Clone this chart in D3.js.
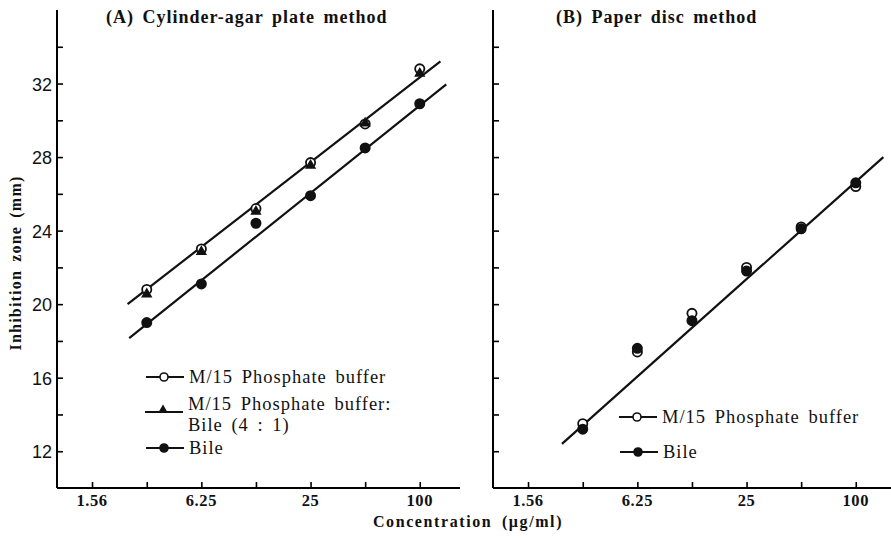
<!DOCTYPE html>
<html>
<head>
<meta charset="utf-8">
<script src="https://cdn.jsdelivr.net/npm/d3@7"></script>
<style>
  body { margin: 0; background: #fff; }
  svg { display: block; }
  text { fill: #111; }
</style>
</head>
<body>
<svg id="chart" width="891" height="538"></svg>
<script>
// Data
const conc = [3.125, 6.25, 12.5, 25, 50, 100];
const tickConc = [1.56, 3.125, 6.25, 12.5, 25, 50, 100];
const tickLabels = ["1.56", "", "6.25", "", "25", "", "100"];
const yTicks = [12, 14, 16, 18, 20, 22, 24, 26, 28, 30, 32, 34];
const yLabels = [12, 16, 20, 24, 28, 32];

// (A) Cylinder-agar plate method
const aPhosphate = [20.8, 23.0, 25.2, 27.7, 29.8, 32.8];
const aMixed = [20.6, 22.9, 25.1, 27.6, 29.9, 32.6];
const aBile = [19.0, 21.1, 24.4, 25.9, 28.5, 30.9];
const aFitUpper = [[2.45, 20.0], [130, 33.2]];
const aFitLower = [[2.5, 18.15], [140, 31.95]];

// (B) Paper disc method
const bPhosphate = [13.5, 17.4, 19.5, 22.0, 24.2, 26.4];
const bBile = [13.2, 17.6, 19.1, 21.8, 24.1, 26.6];
const bFit = [[2.4, 12.4], [142, 28.0]];

const svg = d3.select("#chart");
const serif = "'Liberation Serif', 'DejaVu Serif', serif";
const sans = "'Liberation Sans', Arial, sans-serif";

const y = d3.scaleLinear().domain([10, 36]).range([488, 10]);

const panel = (left, right, title, titleX) => {
    const x = d3.scaleLog().base(2).domain([1, 2 ** ((right - left) / 54.6)]).range([left, right]);
    const g = svg.append("g");

    // axes
    g.append("g")
        .attr("transform", `translate(0,${y(10)})`)
        .call(d3.axisBottom(x).tickValues(tickConc).tickSize(-6).tickFormat(""))
        .call(a => a.select(".domain").attr("stroke-width", 2).attr("d", `M${left},0H${right}`))
        .call(a => a.selectAll(".tick line").attr("stroke-width", 1.6));
    g.append("g")
        .attr("transform", `translate(${left},0)`)
        .call(d3.axisLeft(y).tickValues(yTicks).tickSize(-6).tickFormat(""))
        .call(a => a.select(".domain").attr("stroke-width", 2).attr("d", `M0,${y(10)}V${y(36)}`))
        .call(a => a.selectAll(".tick line").attr("stroke-width", 1.6));

    g.selectAll(".xl")
        .data(tickConc)
        .join("text")
        .attr("x", d => x(d))
        .attr("y", 506)
        .attr("text-anchor", "middle")
        .style("font-family", serif)
        .style("font-weight", "bold")
        .style("font-size", "16.5px")
        .style("letter-spacing", "0.6px")
        .text((d, i) => tickLabels[i]);

    g.append("text")
        .attr("x", titleX)
        .attr("y", 23)
        .style("font-family", serif)
        .style("font-weight", "bold")
        .style("font-size", "18px")
        .style("letter-spacing", "1px")
        .style("word-spacing", "3px")
        .text(title);
    return {x, g};
};

const fitLine = (g, x, pts) => g.append("path")
    .attr("d", d3.line().x(d => x(d[0])).y(d => y(d[1]))(pts))
    .attr("stroke", "#111")
    .attr("stroke-width", 2.2)
    .attr("fill", "none");

const dots = (g, x, vals, kind) => {
    if (kind === "tri") {
        g.selectAll(null)
            .data(vals)
            .join("path")
            .attr("transform", (d, i) => `translate(${x(conc[i])},${y(d) + 1})`)
            .attr("d", d3.symbol(d3.symbolTriangle, 55))
            .attr("fill", "#111");
    } else {
        g.selectAll(null)
            .data(vals)
            .join("circle")
            .attr("cx", (d, i) => x(conc[i]))
            .attr("cy", d => y(d))
            .attr("r", 4.6)
            .attr("fill", kind === "open" ? "#fff" : "#111")
            .attr("stroke", "#111")
            .attr("stroke-width", 1.8);
    }
};

const legendItem = (g, x0, yy, kind, lines) => {
    g.append("line")
        .attr("x1", x0).attr("x2", x0 + 38)
        .attr("y1", yy).attr("y2", yy)
        .attr("stroke", "#111").attr("stroke-width", 2);
    const cx = x0 + 18;
    if (kind === "tri") {
        g.append("path")
            .attr("transform", `translate(${cx},${yy - 2})`)
            .attr("d", d3.symbol(d3.symbolTriangle, 40))
            .attr("fill", "#111");
    } else {
        g.append("circle")
            .attr("cx", cx).attr("cy", yy).attr("r", 4)
            .attr("fill", kind === "open" ? "#fff" : "#111")
            .attr("stroke", "#111").attr("stroke-width", 1.6);
    }
    const t = g.append("text")
        .attr("x", x0 + 43)
        .attr("y", yy + 6 - (lines.length - 1) * 8)
        .style("font-family", serif)
        .style("font-size", "18.5px")
        .style("letter-spacing", "1px")
        .style("word-spacing", "3px");
    lines.forEach((s, i) => t.append("tspan").attr("x", x0 + 43).attr("dy", i ? 21 : 0).text(s));
};

// Panel A
const A = panel(57, 460, "(A) Cylinder-agar plate method", 106);
fitLine(A.g, A.x, aFitUpper);
fitLine(A.g, A.x, aFitLower);
dots(A.g, A.x, aPhosphate, "open");
dots(A.g, A.x, aMixed, "tri");
dots(A.g, A.x, aBile, "filled");

A.g.selectAll(".yl")
    .data(yLabels)
    .join("text")
    .attr("x", 52)
    .attr("y", d => y(d) + 7)
    .attr("text-anchor", "end")
    .style("font-family", sans)
    .style("font-size", "18px")
    .text(d => d);

legendItem(A.g, 146, 377, "open", ["M/15 Phosphate buffer"]);
legendItem(A.g, 145, 412, "tri", ["M/15 Phosphate buffer:", "Bile (4 : 1)"]);
legendItem(A.g, 146, 448, "filled", ["Bile"]);

// Panel B
const B = panel(493, 891, "(B) Paper disc method", 556);
fitLine(B.g, B.x, bFit);
dots(B.g, B.x, bPhosphate, "open");
dots(B.g, B.x, bBile, "filled");
legendItem(B.g, 619, 417, "open", ["M/15 Phosphate buffer"]);
legendItem(B.g, 620, 452, "filled", ["Bile"]);

// axis titles
svg.append("text")
    .attr("transform", "translate(21,263) rotate(-90)")
    .attr("text-anchor", "middle")
    .style("font-family", serif)
    .style("font-weight", "bold")
    .style("font-size", "16px")
    .style("letter-spacing", "1.2px")
    .style("word-spacing", "3px")
    .text("Inhibition zone (mm)");

svg.append("text")
    .attr("x", 468)
    .attr("y", 527)
    .attr("text-anchor", "middle")
    .style("font-family", serif)
    .style("font-weight", "bold")
    .style("font-size", "16px")
    .style("letter-spacing", "1.6px")
    .style("word-spacing", "4px")
    .text("Concentration (μg/ml)");
</script>
</body>
</html>
